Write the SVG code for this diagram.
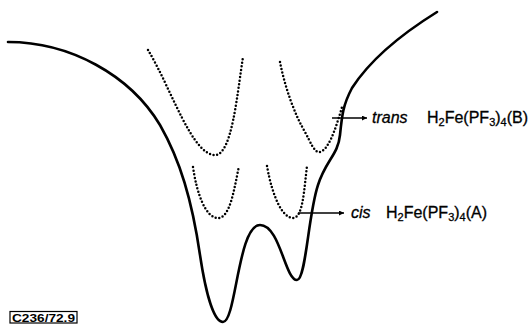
<svg xmlns="http://www.w3.org/2000/svg" width="531" height="324" viewBox="0 0 531 324">
<style>
.solid{fill:none;stroke:#000;stroke-width:2.6;stroke-linecap:round;stroke-linejoin:round}
.dot{fill:none;stroke:#000;stroke-width:2.5;stroke-linecap:round;stroke-dasharray:0 3.6}
.conn{fill:none;stroke:#000;stroke-width:1.4}
.lbl{font-family:"Liberation Sans",Arial,sans-serif;font-size:16px;fill:#000;stroke:#000;stroke-width:0.3}
.sub{font-size:11px}
.code{font-family:"Liberation Sans",Arial,sans-serif;font-size:11px;font-weight:bold;fill:#000}
</style>
<defs>
<marker id="ah" viewBox="0 0 10 10" refX="10" refY="5" markerWidth="9" markerHeight="5" markerUnits="userSpaceOnUse" orient="auto">
<path d="M0,0 L10,5 L0,10 z" fill="#000"/>
</marker>
</defs>
<rect width="531" height="324" fill="#fff"/>
<g id="potential">
<path class="solid" d="M8,42 C70,42 130,75 160,125 C180,160 192,200 200,255 C206,295 214,322 223,322 C236,322 238,225 260,225 C280,225 285,280 297,280 C306,280 308,215 318,185 C326,160 338,155 340,135 C342,115 343,105 352,88 C370,60 400,35 437,12"/>
</g>
<g id="trans-curves">
<path class="dot" d="M148,50 C172,90 192,155 215,155 C232,155 237,95 243,57"/>
<path class="dot" d="M280,62 C285,88 295,115 305,132 C311,143 314,152 319,152 C328,152 336,128 342,107"/>
</g>
<g id="cis-curves">
<path class="dot" d="M193,167 C197,195 206,218 218,218 C230,218 234,190 239,166"/>
<path class="dot" d="M267,166 C272,195 282,218 293,218 C303,218 304,190 307,166"/>
</g>
<g id="connectors">
<line class="conn" x1="332" y1="118" x2="367" y2="118" marker-end="url(#ah)"/>
<line class="conn" x1="298" y1="213" x2="344" y2="213" marker-end="url(#ah)"/>
</g>
<g id="label-trans">
<text class="lbl" x="372" y="123"><tspan font-style="italic">trans</tspan><tspan x="427">H</tspan><tspan class="sub" dy="3">2</tspan><tspan dy="-3">Fe(PF</tspan><tspan class="sub" dy="3">3</tspan><tspan dy="-3">)</tspan><tspan class="sub" dy="3">4</tspan><tspan dy="-3">(B)</tspan></text>
</g>
<g id="label-cis">
<text class="lbl" x="351" y="218"><tspan font-style="italic">cis</tspan><tspan x="386">H</tspan><tspan class="sub" dy="3">2</tspan><tspan dy="-3">Fe(PF</tspan><tspan class="sub" dy="3">3</tspan><tspan dy="-3">)</tspan><tspan class="sub" dy="3">4</tspan><tspan dy="-3">(A)</tspan></text>
</g>
<g id="code-label">
<rect x="10" y="311.5" width="67" height="11.5" fill="none" stroke="#000" stroke-width="1.2"/>
<text class="code" x="12" y="321.5" textLength="63" lengthAdjust="spacingAndGlyphs">C236/72.9</text>
</g>
</svg>
